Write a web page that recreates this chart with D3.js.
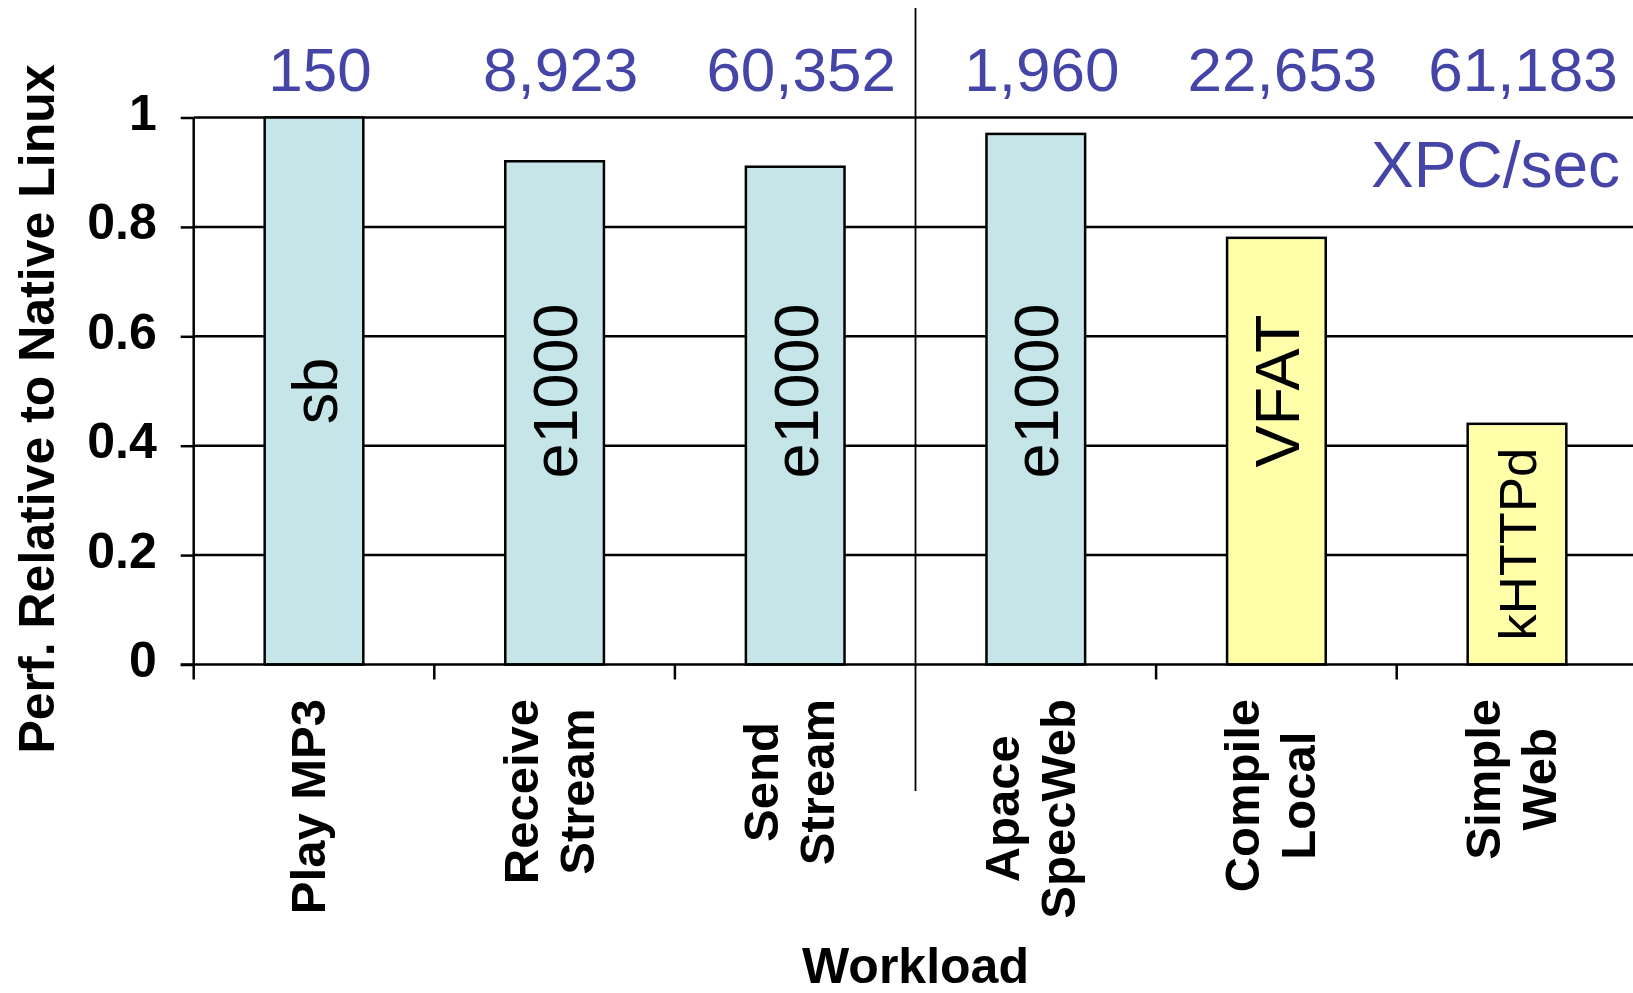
<!DOCTYPE html>
<html>
<head>
<meta charset="utf-8">
<script src="https://cdn.jsdelivr.net/npm/d3@7"></script>
<style>
  html, body { margin: 0; padding: 0; background: #fff; }
  svg { display: block; font-family: "Liberation Sans", Arial, Helvetica, sans-serif; }
</style>
</head>
<body>
<script>
// Workloads (multi-line labels split on "\n")
const workloads = ["Play MP3", "Receive\nStream", "Send\nStream", "Apace\nSpecWeb", "Compile\nLocal", "Simple\nWeb"];
// Performance relative to native Linux
const relPerf = [1.0, 0.92, 0.91, 0.97, 0.78, 0.44];
// Cross-protection-domain calls per second
const xpcPerSec = [150, 8923, 60352, 1960, 22653, 61183];
// Isolated module for each workload
const modules = ["sb", "e1000", "e1000", "e1000", "VFAT", "kHTTPd"];
const moduleKind = ["driver", "driver", "driver", "driver", "service", "service"];
const yTickValues = [0, 0.2, 0.4, 0.6, 0.8, 1];
const groupSplitAfter = 2; // divider between the two workload groups

const W = 1633, H = 993;
const FONT = '"Liberation Sans", Arial, Helvetica, sans-serif';

const svg = d3.select("body").append("svg")
  .attr("width", W).attr("height", H);

const x = d3.scaleBand()
  .domain(d3.range(workloads.length))
  .range([193.7, 1637.3])
  .paddingInner(0.59)
  .paddingOuter(0.295);

const y = d3.scaleLinear().domain([0, 1]).range([664.5, 117.5]);

const fill = d3.scaleOrdinal()
  .domain(["driver", "service"])
  .range(["#c5e5e8", "#ffffaa"]);

const x0 = x.range()[0];
const bandStart = i => x0 + i * x.step();
const bandMid = i => x(i) + x.bandwidth() / 2;

// Horizontal gridlines (drawn under the bars)
svg.append("g")
  .selectAll("line")
  .data(yTickValues.filter(d => d > 0))
  .join("line")
  .attr("x1", x0).attr("x2", W)
  .attr("y1", d => y(d)).attr("y2", d => y(d))
  .attr("stroke", "#000").attr("stroke-width", 2.5);

// Y axis ticks and labels
const yAxis = svg.append("g")
  .attr("transform", `translate(${x0},0)`)
  .call(d3.axisLeft(y).tickValues(yTickValues).tickSize(13).tickPadding(24).tickFormat(d => String(d)));
yAxis.select(".domain").remove();
yAxis.selectAll(".tick line").attr("stroke", "#000").attr("stroke-width", 2.5);
yAxis.selectAll(".tick text")
  .attr("dy", "0.24em")
  .attr("fill", "#000")
  .style("font-family", FONT)
  .style("font-size", "50px")
  .style("font-weight", "bold");

// Bars
svg.append("g")
  .selectAll("rect")
  .data(relPerf)
  .join("rect")
  .attr("x", (d, i) => x(i))
  .attr("y", d => y(d))
  .attr("width", x.bandwidth())
  .attr("height", d => y(0) - y(d))
  .attr("fill", (d, i) => fill(moduleKind[i]))
  .attr("stroke", "#000")
  .attr("stroke-width", 2.5);

// Module name inside each bar, rotated; centred at 0.5 when the bar is tall
// enough, otherwise at mid-bar and shrunk to fit
svg.append("g")
  .selectAll("text")
  .data(relPerf)
  .join("text")
  .text((d, i) => modules[i])
  .attr("text-anchor", "middle")
  .attr("dy", "0.36em")
  .style("font-family", FONT)
  .style("font-size", "63px")
  .attr("fill", "#000")
  .each(function (d, i) {
    const t = d3.select(this);
    const len = this.getComputedTextLength();
    const avail = (y(0) - y(d)) * 0.8;
    if (len > avail) t.style("font-size", (63 * avail / len).toFixed(1) + "px");
    const cy = y(d >= 0.5 ? 0.5 : d / 2);
    t.attr("transform", `translate(${bandMid(i)},${cy}) rotate(-90)`);
  });

// Baseline (x axis) with ticks at band boundaries
svg.append("line")
  .attr("x1", x0 - 13).attr("x2", W)
  .attr("y1", y(0)).attr("y2", y(0))
  .attr("stroke", "#000").attr("stroke-width", 2.5);
svg.append("line")
  .attr("x1", x0).attr("x2", x0)
  .attr("y1", y(1)).attr("y2", y(0) + 15)
  .attr("stroke", "#000").attr("stroke-width", 2.5);
svg.append("g")
  .selectAll("line")
  .data(d3.range(1, workloads.length).filter(i => i !== groupSplitAfter + 1))
  .join("line")
  .attr("x1", i => bandStart(i)).attr("x2", i => bandStart(i))
  .attr("y1", y(0)).attr("y2", y(0) + 15)
  .attr("stroke", "#000").attr("stroke-width", 2.5);

// Group divider
const divX = bandStart(groupSplitAfter + 1);
svg.append("line")
  .attr("x1", divX).attr("x2", divX)
  .attr("y1", 8).attr("y2", 791)
  .attr("stroke", "#000").attr("stroke-width", 1.8);

// XPC rate above each workload
const fmt = d3.format(",");
svg.append("g")
  .selectAll("text")
  .data(xpcPerSec)
  .join("text")
  .attr("x", (d, i) => bandMid(i) + 6)
  .attr("y", 91)
  .attr("text-anchor", "middle")
  .attr("fill", "#4545a8")
  .style("font-family", FONT)
  .style("font-size", "62px")
  .text(d => fmt(d));

svg.append("text")
  .attr("x", 1620).attr("y", 187)
  .attr("text-anchor", "end")
  .attr("fill", "#4545a8")
  .style("font-family", FONT)
  .style("font-size", "64px")
  .text("XPC/sec");

// Workload labels: rotated, lines centred on each other, block top-aligned
const xl = svg.append("g");
workloads.forEach((label, i) => {
  const lines = label.split("\n");
  const n = lines.length;
  const texts = lines.map(ln => xl.append("text")
    .text(ln)
    .attr("text-anchor", "middle")
    .attr("fill", "#000")
    .style("font-family", FONT)
    .style("font-size", "49px")
    .style("font-weight", "bold"));
  const maxLen = d3.max(texts, t => t.node().getComputedTextLength());
  const cy = 699 + maxLen / 2;
  texts.forEach((t, j) => {
    const bx = bandMid(i) - 7 + 18 + (j - (n - 1) / 2) * 56;
    t.attr("transform", `translate(${bx},${cy}) rotate(-90)`);
  });
});

// Axis titles
svg.append("text")
  .attr("x", (x0 + x.range()[1]) / 2).attr("y", 983)
  .attr("text-anchor", "middle")
  .attr("fill", "#000")
  .style("font-family", FONT)
  .style("font-size", "50px")
  .style("font-weight", "bold")
  .text("Workload");

svg.append("text")
  .attr("transform", "translate(54,409) rotate(-90)")
  .attr("text-anchor", "middle")
  .attr("fill", "#000")
  .style("font-family", FONT)
  .style("font-size", "50px")
  .style("font-weight", "bold")
  .text("Perf. Relative to Native Linux");
</script>
</body>
</html>
